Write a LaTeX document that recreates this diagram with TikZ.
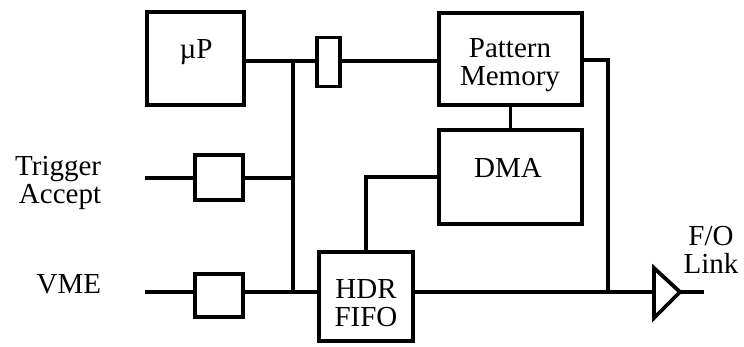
\documentclass[tikz,border=0pt]{standalone}
\usepackage{fontspec}
\setmainfont{Liberation Serif}
\begin{document}
\begin{tikzpicture}[x=0.5pt,y=-0.5pt,
  line width=1.9pt,
  box/.style={draw,rectangle,inner sep=0pt,outer sep=0pt},
  lbl/.style={inner sep=0pt,font=\fontsize{14.5}{14}\selectfont},
  wire/.style={line width=1.9pt}]
\useasboundingbox (0,0) rectangle (744,347);
% boxes
\node[box,minimum width=48.5pt,minimum height=46.5pt] (mp) at (195.5,58.5) {};
\node[box,minimum width=11.5pt,minimum height=24.5pt] (buf) at (328.5,62) {};
\node[box,minimum width=71.5pt,minimum height=46pt] (pm) at (510.5,59) {};
\node[box,minimum width=71.5pt,minimum height=47pt] (dma) at (510.5,177) {};
\node[box,minimum width=24pt,minimum height=22.5pt] (trig) at (219,177.5) {};
\node[box,minimum width=24pt,minimum height=21.5pt] (vmeb) at (219,295.5) {};
\node[box,minimum width=47pt,minimum height=44.5pt] (hdr) at (366,296.5) {};
% texts
\node[lbl] (tmp) at (196,52) {µP};
\node[lbl,align=center] (tpm) at (510,65) {Pattern\\Memory};
\node[lbl] (tdma) at (508,168) {DMA};
\node[lbl,align=center] (thdr) at (366,303.5) {HDR\\FIFO};
\node[lbl,align=right,anchor=east] (ttrig) at (103,182.5) {Trigger\\Accept};
\node[lbl,anchor=base east] (tvme) at (103,293) {VME};
\node[lbl,align=center] (tfo) at (711,250) {F/O\\Link};
% coordinates
\coordinate (busT) at (293,61);
\coordinate (busB) at (293,292);
\coordinate (tin) at (145,178);
\coordinate (vin) at (145,292);
\coordinate (rT) at (608,60);
\coordinate (rB) at (608,292);
\coordinate (trL) at (654,292);
\coordinate (trTip) at (680,292);
\coordinate (out) at (704,292);
% wires
\draw[wire] (mp.east |- busT) -- (buf.west |- busT);
\draw[wire] (buf.east |- busT) -- (pm.west |- busT);
\draw[wire] (busT) -- (busB);
\draw[wire] (tin) -- (trig.west |- tin);
\draw[wire] (trig.east |- tin) -- (busT |- tin);
\draw[wire] (vin) -- (vmeb.west |- vin);
\draw[wire] (vmeb.east |- vin) -- (hdr.west |- vin);
\draw[wire] (pm.south) -- (dma.north);
\draw[wire] (hdr.north) |- (dma.west);
\draw[wire] (pm.east |- rT) -- (rT) -- (rB);
\draw[wire] (hdr.east |- vin) -- (trL);
\draw[wire,line join=miter] (654,268) -- (trTip) -- (654,318) -- cycle;
\draw[wire] (trTip) -- (out);
\end{tikzpicture}
\end{document}
